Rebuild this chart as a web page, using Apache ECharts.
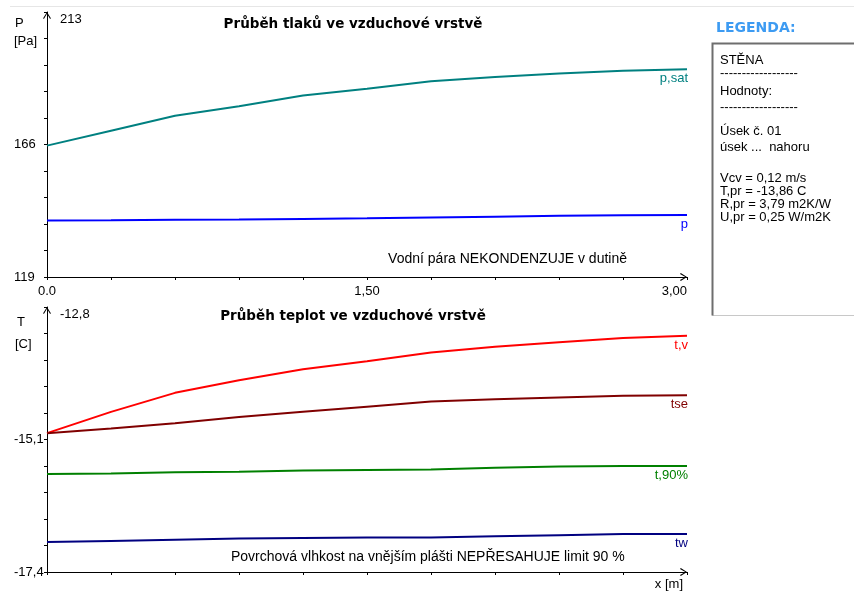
<!DOCTYPE html>
<html><head><meta charset="utf-8">
<script src="https://cdn.jsdelivr.net/npm/echarts@6/dist/echarts.min.js"></script>
<style>html,body{margin:0;padding:0;background:#fff}#c{width:854px;height:592px}</style>
</head><body><div id="c"></div>
<script>
// ---- data ----
const xPos = [0, 0.3, 0.6, 0.9, 1.2, 1.5, 1.8, 2.1, 2.4, 2.7, 3.0];
const pSat = [165.6, 170.9, 176.2, 179.6, 183.4, 185.8, 188.4, 189.9, 191.2, 192.2, 192.7];
const pVal = [139.0, 139.1, 139.3, 139.4, 139.6, 139.8, 140.1, 140.4, 140.7, 140.9, 141.0];
const tV   = [-14.99, -14.62, -14.29, -14.07, -13.88, -13.74, -13.59, -13.49, -13.41, -13.34, -13.30];
const tSe  = [-14.99, -14.91, -14.82, -14.71, -14.62, -14.53, -14.44, -14.40, -14.37, -14.34, -14.33];
const t90  = [-15.70, -15.69, -15.67, -15.66, -15.64, -15.63, -15.62, -15.59, -15.57, -15.56, -15.56];
const tW   = [-16.88, -16.86, -16.84, -16.82, -16.81, -16.80, -16.80, -16.78, -16.76, -16.74, -16.74];
const pMin = 119, pMax = 213;
const tMin = -17.4, tMax = -12.8;
const pLabelValues = [119, 166];
const pLabelTexts = ['119', '166'];
const pTopLabel = '213';
const tLabelValues = [-17.4, -15.1];
const tLabelTexts = ['-17,4', '-15,1'];
const tTopLabel = '-12,8';
const xLabelValues = [0, 1.5, 3];
const xLabelTexts = ['0.0', '1,50', '3,00'];
const legendLines = ['STĚNA', '------------------', 'Hodnoty:', '------------------', 'Úsek č. 01', 'úsek ...  nahoru', 'Vcv = 0,12 m/s', 'T,pr = -13,86 C', 'R,pr = 3,79 m2K/W', 'U,pr = 0,25 W/m2K'];

// ---- styling helpers ----
const FONT = 'Liberation Sans, Arial, sans-serif';
const BOLD = 'DejaVu Sans, sans-serif';
const chevron = 'path://M0,8 L5,0 L10,8 L9,9 L5,2.2 L1,9 Z';
function ticks(min, max, n) { const a = []; for (let i = 0; i <= n; i++) a.push(min + (max - min) * i / n); return a; }
function fmt(vals, texts) { return v => { for (let i = 0; i < vals.length; i++) if (Math.abs(v - vals[i]) < 1e-6) return texts[i]; return ''; }; }

function xAxisCfg(gi, showLabels) {
  return {
    type: 'value', gridIndex: gi, min: 0, max: 3, interval: 0.3,
    axisLine: { show: true, onZero: false, lineStyle: { color: '#000', width: 1 }, symbol: ['none', chevron], symbolSize: [12, 7], symbolOffset: [0, -3.5] },
    axisTick: { show: true, length: 3, lineStyle: { color: '#000' } },
    splitLine: { show: false },
    axisLabel: showLabels ? { show: true, customValues: xLabelValues, formatter: fmt(xLabelValues, xLabelTexts), margin: 8, color: '#000', fontFamily: FONT, fontSize: 13, alignMaxLabel: 'right' } : { show: false }
  };
}
function yAxisCfg(gi, min, max, lv, lt) {
  return {
    type: 'value', gridIndex: gi, min: min, max: max,
    axisLine: { show: true, onZero: false, lineStyle: { color: '#000', width: 1 }, symbol: ['none', chevron], symbolSize: [12, 7], symbolOffset: [0, -3.5] },
    axisTick: { show: true, length: 3, customValues: ticks(min, max, 10), lineStyle: { color: '#000' } },
    splitLine: { show: false },
    axisLabel: { show: true, customValues: lv, formatter: fmt(lv, lt), margin: 33, align: 'left', color: '#000', fontFamily: FONT, fontSize: 13 }
  };
}
function mk(name, xi, arr, color) {
  return { name: name, type: 'line', xAxisIndex: xi, yAxisIndex: xi, data: xPos.map((x, i) => [x, arr[i]]),
    showSymbol: false, symbol: 'none', lineStyle: { color: color, width: 2 }, itemStyle: { color: color }, animation: false, silent: true };
}
const seriesDefs = [
  ['p,sat', 0, pSat, '#008080'],
  ['p', 0, pVal, '#0000ff'],
  ['t,v', 1, tV, '#ff0000'],
  ['tse', 1, tSe, '#800000'],
  ['t,90%', 1, t90, '#008000'],
  ['tw', 1, tW, '#000080']
];

function txt(x, y, s, opt) {
  return Object.assign({ type: 'text', x: x, y: y, silent: true, style: Object.assign({ text: s, fill: '#000', font: '13px ' + FONT, align: 'left', verticalAlign: 'middle' }, opt || {}) });
}
const baseGraphic = [
  { type: 'line', shape: { x1: 10, y1: 6.5, x2: 854, y2: 6.5 }, style: { stroke: '#e6e6e6', lineWidth: 1 }, silent: true },
  txt(15, 23, 'P'), txt(14, 41, '[Pa]'),
  txt(60, 19, pTopLabel),
  txt(17, 322, 'T'), txt(15, 344, '[C]'),
  txt(60, 314, tTopLabel),
  txt(353, 24, 'Průběh tlaků ve vzduchové vrstvě', { font: 'bold 13.5px ' + BOLD, align: 'center' }),
  txt(353, 316, 'Průběh teplot ve vzduchové vrstvě', { font: 'bold 13.5px ' + BOLD, align: 'center' }),
  txt(627, 259, 'Vodní pára NEKONDENZUJE v dutině', { font: '14px ' + FONT, align: 'right' }),
  txt(231, 557, 'Povrchová vlhkost na vnějším plášti NEPŘESAHUJE limit 90 %', { font: '14px ' + FONT }),
  txt(683, 584, 'x [m]', { align: 'right' }),
  txt(716, 28, 'LEGENDA:', { font: 'bold 14px ' + BOLD, fill: '#3d9bf2' }),
  { type: 'rect', shape: { x: 712.5, y: 43.5, width: 160, height: 272 }, style: { fill: '#fff', stroke: '#c8c8c8', lineWidth: 1 }, silent: true, z: 0 },
  { type: 'polyline', shape: { points: [[712.5, 315.5], [712.5, 43.5], [854, 43.5]] }, style: { stroke: '#6e6e6e', lineWidth: 2, fill: null }, silent: true, z: 1 }
];
const legendY = [60, 73, 91, 107, 131, 147, 178, 191, 204, 217];
legendLines.forEach((s, i) => baseGraphic.push(Object.assign(txt(720, legendY[i], s), { z: 2 })));

const chart = echarts.init(document.getElementById('c'), null, { renderer: 'canvas' });
chart.setOption({
  animation: false,
  backgroundColor: '#fff',
  grid: [
    { left: 47, top: 12, width: 640, height: 265 },
    { left: 47, top: 307, width: 640, height: 265 }
  ],
  xAxis: [xAxisCfg(0, true), xAxisCfg(1, false)],
  yAxis: [yAxisCfg(0, pMin, pMax, pLabelValues, pLabelTexts), yAxisCfg(1, tMin, tMax, tLabelValues, tLabelTexts)],
  series: seriesDefs.map(d => mk(d[0], d[1], d[2], d[3])),
  graphic: baseGraphic
});
// end-of-line series names placed from the library's own coordinate conversion
const endLabels = seriesDefs.map(d => {
  const arr = d[2];
  const pt = chart.convertToPixel({ gridIndex: d[1] }, [xPos[xPos.length - 1], arr[arr.length - 1]]);
  return txt(pt[0] + 1, pt[1] + 3, d[0], { fill: d[3], align: 'right', verticalAlign: 'top' });
});
chart.setOption({ graphic: baseGraphic.concat(endLabels) });
</script></body></html>
